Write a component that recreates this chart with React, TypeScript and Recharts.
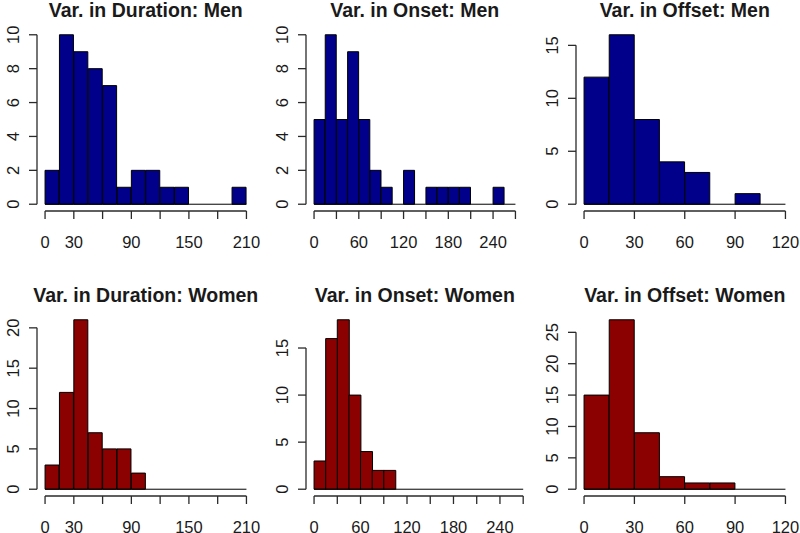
import React from "react";
import { Bar, BarChart, ReferenceLine, XAxis, YAxis } from "recharts";

// every histogram uses 15-unit bins starting at 0
const BIN = 15;

const durationMen = [2, 10, 9, 8, 7, 1, 2, 2, 1, 1, 0, 0, 0, 1];
const onsetMen = [5, 10, 5, 9, 5, 2, 1, 0, 2, 0, 1, 1, 1, 1, 0, 0, 1, 0];
const offsetMen = [12, 16, 8, 4, 3, 0, 1, 0];
const durationWomen = [3, 12, 21, 7, 5, 5, 2, 0, 0, 0, 0, 0, 0, 0];
const onsetWomen = [3, 16, 18, 10, 4, 2, 2, 0, 0, 0, 0, 0, 0, 0, 0, 0, 0, 0];
const offsetWomen = [15, 27, 9, 2, 1, 1, 0, 0];

const durationTicks = [0, 30, 60, 90, 120, 150, 180, 210];
const durationLabels = [0, 30, 90, 150, 210];
const onsetTicks = [0, 30, 60, 90, 120, 150, 180, 210, 240, 270];
const onsetLabels = [0, 60, 120, 180, 240];
const offsetTicks = [0, 30, 60, 90, 120];
const offsetLabels = [0, 30, 60, 90, 120];

const yTicksTen = [0, 2, 4, 6, 8, 10];
const yTicksFifteen = [0, 5, 10, 15];
const yTicksTwenty = [0, 5, 10, 15, 20];
const yTicksTwentyFive = [0, 5, 10, 15, 20, 25];

const NAVY = "#00008b";
const DARKRED = "#8b0000";
const AXIS = "#2a2a2a";
const FONT = '"Liberation Sans", Arial, sans-serif';

// plot-region geometry (R style par(mfrow=c(2,3)))
const PLOT_W = 217.5;
const PLOT_H = 183;
const CHART_W = 267;
const CHART_H = 262;
const TOP = 28;
const Y_AXIS_W = 30;
const colLeft = [0, 269, 539];
const rowTop = [0, 285];

const panels = [
  { title: "Var. in Duration: Men", counts: durationMen, xlim: [0, 210], xTicks: durationTicks, xLabels: durationLabels, yTicks: yTicksTen, fill: NAVY },
  { title: "Var. in Onset: Men", counts: onsetMen, xlim: [0, 270], xTicks: onsetTicks, xLabels: onsetLabels, yTicks: yTicksTen, fill: NAVY },
  { title: "Var. in Offset: Men", counts: offsetMen, xlim: [0, 120], xTicks: offsetTicks, xLabels: offsetLabels, yTicks: yTicksFifteen, fill: NAVY },
  { title: "Var. in Duration: Women", counts: durationWomen, xlim: [0, 210], xTicks: durationTicks, xLabels: durationLabels, yTicks: yTicksTwenty, fill: DARKRED },
  { title: "Var. in Onset: Women", counts: onsetWomen, xlim: [0, 260], xTicks: onsetTicks, xLabels: onsetLabels, yTicks: yTicksFifteen, fill: DARKRED },
  { title: "Var. in Offset: Women", counts: offsetWomen, xlim: [0, 120], xTicks: offsetTicks, xLabels: offsetLabels, yTicks: yTicksTwentyFive, fill: DARKRED },
];

function XTick(props: any) {
  const { x, y, payload, labels } = props;
  if (!labels.includes(payload.value)) return null;
  return (
    <text x={x} y={y + 20.5} textAnchor="middle" dominantBaseline="central" fontSize={16.5} fontFamily={FONT} fill="#1a1a1a">
      {payload.value}
    </text>
  );
}

function YTick(props: any) {
  const { x, y, payload } = props;
  const cx = x - 14;
  return (
    <text
      x={cx}
      y={y}
      transform={`rotate(-90, ${cx}, ${y})`}
      textAnchor="middle"
      dominantBaseline="central"
      fontSize={16.5}
      fontFamily={FONT}
      fill="#1a1a1a"
    >
      {payload.value}
    </text>
  );
}

function Histogram({ panel }: { panel: (typeof panels)[number] }) {
  const { counts, xlim, xTicks, xLabels, yTicks, fill } = panel;
  // bars sit on the bin midpoints of a numeric axis; band = bin spacing
  const data = counts.map((c, i) => ({ mid: i * BIN + BIN / 2, count: c }));
  const xr = xlim[1] - xlim[0];
  const xLo = xlim[0] - 0.04 * xr;
  const xHi = xlim[1] + 0.04 * xr;
  const yMax = Math.max(...counts);
  const yLo = -0.04 * yMax;
  const yHi = 1.04 * yMax;
  const binEnd = counts.length * BIN;

  return (
    <BarChart
      width={CHART_W}
      height={CHART_H}
      data={data}
      barCategoryGap={0}
      barGap={0}
      margin={{ top: TOP, left: 37 - Y_AXIS_W, right: CHART_W - 37 - PLOT_W, bottom: 0 }}
    >
      <XAxis
        dataKey="mid"
        type="number"
        domain={[xLo, xHi]}
        allowDataOverflow
        ticks={xTicks}
        interval={0}
        axisLine={false}
        tickSize={8}
        stroke={AXIS}
        tickLine={{ strokeWidth: 1.3 }}
        height={CHART_H - TOP - PLOT_H}
        tick={<XTick labels={xLabels} />}
      />
      <YAxis
        type="number"
        domain={[yLo, yHi]}
        allowDataOverflow
        ticks={yTicks}
        interval={0}
        axisLine={false}
        tickSize={8}
        stroke={AXIS}
        tickLine={{ strokeWidth: 1.3 }}
        width={Y_AXIS_W}
        tick={<YTick />}
      />
      <ReferenceLine ifOverflow="visible" segment={[{ x: xLo, y: 0 }, { x: xLo, y: yTicks[yTicks.length - 1] }]} stroke={AXIS} strokeWidth={1.3} />
      <ReferenceLine ifOverflow="visible" segment={[{ x: 0, y: yLo }, { x: xTicks[xTicks.length - 1], y: yLo }]} stroke={AXIS} strokeWidth={1.3} />
      <ReferenceLine ifOverflow="visible" segment={[{ x: 0, y: 0 }, { x: binEnd, y: 0 }]} stroke="#000" strokeWidth={1} />
      <Bar dataKey="count" fill={fill} stroke="#000" strokeWidth={1} isAnimationActive={false} />
    </BarChart>
  );
}

export default function App() {
  return (
    <div style={{ position: "absolute", left: 0, top: 0, width: 800, height: 533, overflow: "hidden", background: "#fff" }}>
      {panels.map((p, i) => {
        const left = colLeft[i % 3];
        const top = rowTop[Math.floor(i / 3)];
        return (
          <div key={p.title} style={{ position: "absolute", left, top, width: CHART_W, height: CHART_H }}>
            <div
              style={{
                position: "absolute",
                left: 37 + PLOT_W / 2,
                top: 1,
                transform: "translateX(-50%)",
                whiteSpace: "nowrap",
                fontFamily: FONT,
                fontWeight: "bold",
                fontSize: 19.5,
                lineHeight: "19.5px",
                color: "#1a1a1a",
                zIndex: 1,
              }}
            >
              {p.title}
            </div>
            <Histogram panel={p} />
          </div>
        );
      })}
    </div>
  );
}
